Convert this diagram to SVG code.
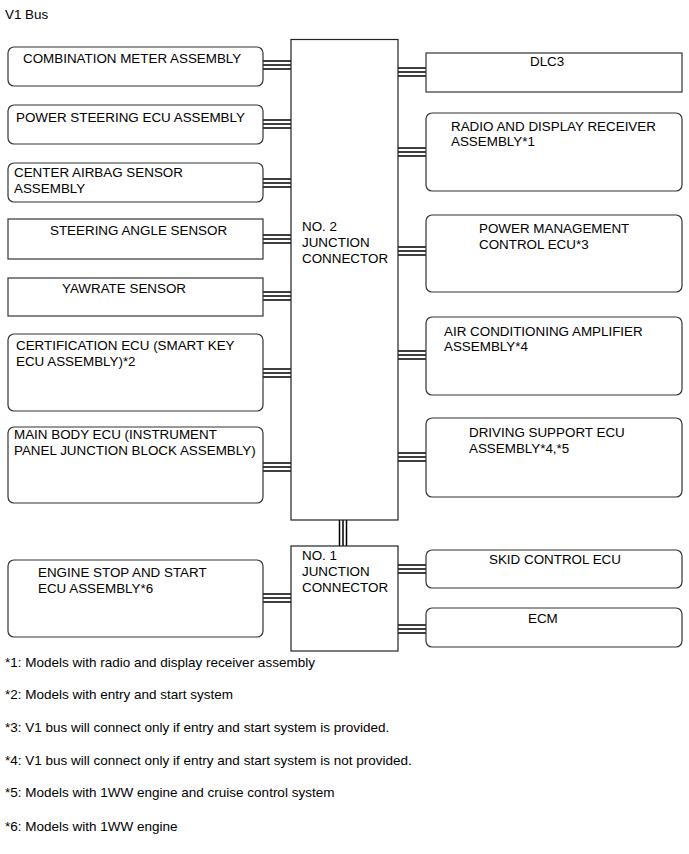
<svg xmlns="http://www.w3.org/2000/svg" width="689" height="854" viewBox="0 0 689 854">
<style>
text{font-family:"Liberation Sans",Arial,sans-serif;font-size:13.4px;fill:#000}
.fn{font-size:13.5px}
.box{fill:#fff;stroke:#333;stroke-width:1.2}
.jc{fill:#fff;stroke:#222;stroke-width:1.2}
.w{stroke:#000;stroke-width:1.5;fill:none}
</style>
<rect width="689" height="854" fill="#fff"/>
<text x="5" y="19">V1 Bus</text>
<g id="connectors">
<g class="w">
<path d="M263 61H291M263 65H291M263 69H291"/>
<path d="M263 120H291M263 124H291M263 128H291"/>
<path d="M263 179H291M263 183H291M263 187H291"/>
<path d="M263 235H291M263 239H291M263 243H291"/>
<path d="M263 292H291M263 296H291M263 300H291"/>
<path d="M263 369H291M263 373H291M263 377H291"/>
<path d="M263 463H291M263 467H291M263 471H291"/>
<path d="M263 594H291M263 598H291M263 602H291"/>
<path d="M398 68H426M398 72H426M398 76H426"/>
<path d="M398 148H426M398 152H426M398 156H426"/>
<path d="M398 247H426M398 251H426M398 255H426"/>
<path d="M398 351H426M398 355H426M398 359H426"/>
<path d="M398 453H426M398 457H426M398 461H426"/>
<path d="M398 565H426M398 569H426M398 573H426"/>
<path d="M398 625H426M398 629H426M398 633H426"/>
<path d="M339.5 520V546M343 520V546M346.5 520V546"/>
</g>
</g>
<g id="combination-meter"><rect class="box" x="8" y="47" width="255" height="39" rx="6"/><text x="23" y="63">COMBINATION METER ASSEMBLY</text></g>
<g id="power-steering"><rect class="box" x="8" y="105" width="255" height="39" rx="6"/><text x="16" y="122">POWER STEERING ECU ASSEMBLY</text></g>
<g id="center-airbag"><rect class="box" x="8" y="163" width="255" height="39" rx="6"/><text x="14" y="177">CENTER AIRBAG SENSOR</text><text x="14" y="193">ASSEMBLY</text></g>
<g id="steering-angle"><rect class="box" x="8" y="219" width="255" height="40"/><text x="50" y="235">STEERING ANGLE SENSOR</text></g>
<g id="yawrate"><rect class="box" x="8" y="278" width="255" height="38"/><text x="62" y="293">YAWRATE SENSOR</text></g>
<g id="certification"><rect class="box" x="8" y="334" width="255" height="77" rx="6"/><text x="16" y="350">CERTIFICATION ECU (SMART KEY</text><text x="16" y="366">ECU ASSEMBLY)*2</text></g>
<g id="main-body"><rect class="box" x="8" y="427" width="255" height="76" rx="6"/><text x="14" y="439">MAIN BODY ECU (INSTRUMENT</text><text x="14" y="455">PANEL JUNCTION BLOCK ASSEMBLY)</text></g>
<g id="engine-stop"><rect class="box" x="8" y="560" width="255" height="77" rx="6"/><text x="38" y="577">ENGINE STOP AND START</text><text x="38" y="593">ECU ASSEMBLY*6</text></g>
<g id="junction-2"><rect class="jc" x="291" y="39.5" width="107" height="480.5"/><text x="302" y="231">NO. 2</text><text x="302" y="247">JUNCTION</text><text x="302" y="263">CONNECTOR</text></g>
<g id="junction-1"><rect class="jc" x="291" y="546" width="107" height="105"/><text x="302" y="560">NO. 1</text><text x="302" y="576">JUNCTION</text><text x="302" y="592">CONNECTOR</text></g>
<g id="dlc3"><rect class="box" x="426" y="53" width="256" height="39"/><text x="530" y="66">DLC3</text></g>
<g id="radio"><rect class="box" x="426" y="113" width="256" height="78" rx="6"/><text x="451" y="131">RADIO AND DISPLAY RECEIVER</text><text x="451" y="146">ASSEMBLY*1</text></g>
<g id="power-management"><rect class="box" x="426" y="215" width="256" height="77" rx="6"/><text x="479" y="233">POWER MANAGEMENT</text><text x="479" y="249">CONTROL ECU*3</text></g>
<g id="air-conditioning"><rect class="box" x="426" y="317" width="256" height="78" rx="6"/><text x="444" y="336">AIR CONDITIONING AMPLIFIER</text><text x="444" y="351">ASSEMBLY*4</text></g>
<g id="driving-support"><rect class="box" x="426" y="418" width="256" height="79" rx="6"/><text x="469" y="437">DRIVING SUPPORT ECU</text><text x="469" y="453">ASSEMBLY*4,*5</text></g>
<g id="skid-control"><rect class="box" x="426" y="550" width="256" height="38" rx="6"/><text x="489" y="564">SKID CONTROL ECU</text></g>
<g id="ecm"><rect class="box" x="426" y="608" width="256" height="39" rx="6"/><text x="528" y="623">ECM</text></g>
<text class="fn" x="5" y="667">*1: Models with radio and display receiver assembly</text>
<text class="fn" x="5" y="699">*2: Models with entry and start system</text>
<text class="fn" x="5" y="732">*3: V1 bus will connect only if entry and start system is provided.</text>
<text class="fn" x="5" y="765">*4: V1 bus will connect only if entry and start system is not provided.</text>
<text class="fn" x="5" y="797">*5: Models with 1WW engine and cruise control system</text>
<text class="fn" x="5" y="831">*6: Models with 1WW engine</text>
</svg>
